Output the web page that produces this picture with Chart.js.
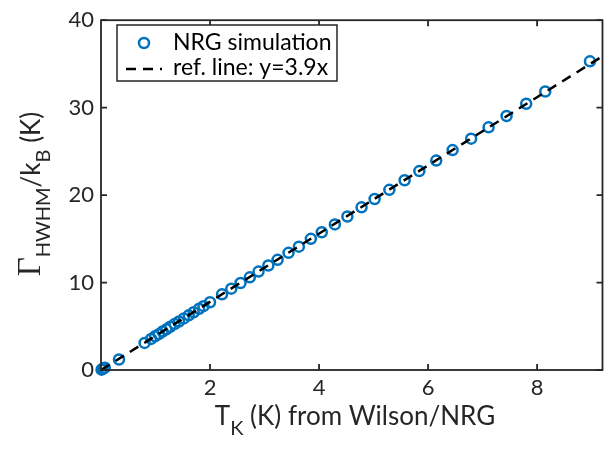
<!DOCTYPE html>
<html>
<head>
<meta charset="utf-8">
<script src="https://cdn.jsdelivr.net/npm/chart.js@4.4.1/dist/chart.umd.min.js"></script>
<style>
  html, body { margin: 0; padding: 0; background: #ffffff; }
  #wrap { width: 610px; height: 464px; }
</style>
</head>
<body>
<div id="wrap"><canvas id="c" width="610" height="464"></canvas></div>
<script>
// ---- data ----
const nrgT = [0.01, 0.03, 0.05, 0.07, 0.33, 0.80, 0.92, 0.99, 1.06, 1.13, 1.20, 1.27, 1.35, 1.43, 1.52, 1.61, 1.70, 1.80, 1.88, 2.00, 2.22, 2.39, 2.56, 2.73, 2.89, 3.07, 3.24, 3.44, 3.63, 3.85, 4.05, 4.29, 4.52, 4.78, 5.02, 5.29, 5.57, 5.84, 6.15, 6.45, 6.79, 7.11, 7.44, 7.80, 8.15, 8.97];
const nrgGamma = [0.04, 0.12, 0.20, 0.27, 1.20, 3.10, 3.55, 3.85, 4.10, 4.40, 4.65, 4.95, 5.25, 5.55, 5.90, 6.25, 6.60, 7.00, 7.30, 7.75, 8.65, 9.30, 9.95, 10.60, 11.25, 11.95, 12.60, 13.40, 14.10, 15.00, 15.75, 16.65, 17.55, 18.60, 19.55, 20.60, 21.70, 22.75, 23.95, 25.15, 26.45, 27.75, 29.05, 30.45, 31.85, 35.30];
const refX = [0, 9.2];
const refY = [0, 35.88];
const xTicks = [2, 4, 6, 8];
const yTicks = [0, 10, 20, 30, 40];
const legendLabels = ['NRG simulation', 'ref. line: y=3.9x'];

const AXC = '#262626';
const BLUE = '#0072BD';
const SANS = 'Lato, "Open Sans", sans-serif';

const framePlugin = {
  id: 'frame',
  afterDraw(chart) {
    const ctx = chart.ctx;
    const a = chart.chartArea;
    const xs = chart.scales.x, ys = chart.scales.y;
    ctx.save();
    ctx.strokeStyle = AXC;
    ctx.lineWidth = 1.8;
    ctx.strokeRect(a.left, a.top, a.right - a.left, a.bottom - a.top);
    const tl = 6;
    ctx.beginPath();
    xTicks.forEach(v => {
      const p = xs.getPixelForValue(v);
      ctx.moveTo(p, a.bottom); ctx.lineTo(p, a.bottom - tl);
      ctx.moveTo(p, a.top); ctx.lineTo(p, a.top + tl);
    });
    yTicks.forEach(v => {
      const p = ys.getPixelForValue(v);
      ctx.moveTo(a.left, p); ctx.lineTo(a.left + tl, p);
      ctx.moveTo(a.right, p); ctx.lineTo(a.right - tl, p);
    });
    ctx.stroke();

    // legend box
    const lx = 117, ly = 25, lw = 220, lh = 56;
    ctx.fillStyle = '#ffffff';
    ctx.fillRect(lx, ly, lw, lh);
    ctx.strokeStyle = AXC;
    ctx.lineWidth = 1.5;
    ctx.strokeRect(lx, ly, lw, lh);
    ctx.strokeStyle = BLUE;
    ctx.lineWidth = 2.5;
    ctx.beginPath();
    ctx.arc(144, 43, 5, 0, Math.PI * 2);
    ctx.stroke();
    ctx.strokeStyle = '#000000';
    ctx.lineWidth = 2.5;
    ctx.setLineDash([10, 7]);
    ctx.beginPath();
    ctx.moveTo(126, 69); ctx.lineTo(162, 69);
    ctx.stroke();
    ctx.setLineDash([]);
    ctx.fillStyle = '#000000';
    ctx.font = '23px ' + SANS;
    ctx.textBaseline = 'middle';
    ctx.textAlign = 'left';
    ctx.fillText(legendLabels[0], 173, 43);
    ctx.fillText(legendLabels[1], 173, 68);

    // x title: T_K (K) from Wilson/NRG
    ctx.fillStyle = AXC;
    ctx.textBaseline = 'alphabetic';
    const fMain = '26px ' + SANS, fSub = '20px ' + SANS;
    const xParts = [
      { t: 'T', f: fMain, dy: 0 },
      { t: 'K', f: fSub, dy: 10 },
      { t: ' (K) from Wilson/NRG', f: fMain, dy: 0 }
    ];
    let tw = 0;
    xParts.forEach(p => { ctx.font = p.f; p.w = ctx.measureText(p.t).width; tw += p.w; });
    let cx = 355 - tw / 2;
    xParts.forEach(p => { ctx.font = p.f; ctx.fillText(p.t, cx, 425 + p.dy); cx += p.w; });

    // y title: Γ_HWHM / k_B (K)
    const yParts = [
      { t: '\u0393', f: '33px "Liberation Serif", "DejaVu Serif", serif', dy: 0 },
      { t: 'HWHM', f: fSub, dy: 10 },
      { t: '/k', f: fMain, dy: 0 },
      { t: 'B', f: fSub, dy: 10 },
      { t: ' (K)', f: fMain, dy: 0 }
    ];
    tw = 0;
    yParts.forEach(p => { ctx.font = p.f; p.w = ctx.measureText(p.t).width; tw += p.w; });
    ctx.translate(40, 194);
    ctx.rotate(-Math.PI / 2);
    cx = -tw / 2;
    yParts.forEach(p => { ctx.font = p.f; ctx.fillText(p.t, cx, p.dy); cx += p.w; });
    ctx.restore();
  }
};

const scatterData = nrgT.map((x, i) => ({ x: x, y: nrgGamma[i] }));
const refData = refX.map((x, i) => ({ x: x, y: refY[i] }));

new Chart(document.getElementById('c'), {
  type: 'scatter',
  data: {
    datasets: [
      {
        label: legendLabels[0],
        data: scatterData,
        showLine: false,
        pointStyle: 'circle',
        pointRadius: 5,
        pointBorderWidth: 2.5,
        pointBorderColor: BLUE,
        pointBackgroundColor: 'rgba(255,255,255,0)',
        clip: false,
        order: 2
      },
      {
        label: legendLabels[1],
        data: refData,
        showLine: true,
        borderColor: '#000000',
        borderWidth: 2.5,
        borderDash: [10, 7],
        pointRadius: 0,
        fill: false,
        order: 1
      }
    ]
  },
  options: {
    responsive: false,
    animation: false,
    devicePixelRatio: 1,
    layout: { padding: { top: 14, right: 7, left: 0, bottom: 0 } },
    plugins: { legend: { display: false }, tooltip: { enabled: false } },
    scales: {
      x: {
        type: 'linear',
        min: 0,
        max: 9.2,
        afterBuildTicks: s => { s.ticks = xTicks.map(v => ({ value: v })); },
        afterFit: s => { s.height = 94; },
        grid: { display: false, drawTicks: false },
        border: { display: false },
        ticks: { color: AXC, font: { family: SANS, size: 22 }, padding: 5, maxRotation: 0 }
      },
      y: {
        type: 'linear',
        min: 0,
        max: 40,
        afterBuildTicks: s => { s.ticks = yTicks.map(v => ({ value: v })); },
        afterFit: s => { s.width = 101; },
        grid: { display: false, drawTicks: false },
        border: { display: false },
        ticks: { color: AXC, font: { family: SANS, size: 22 }, padding: 7 }
      }
    }
  },
  plugins: [framePlugin]
});
</script>
</body>
</html>
